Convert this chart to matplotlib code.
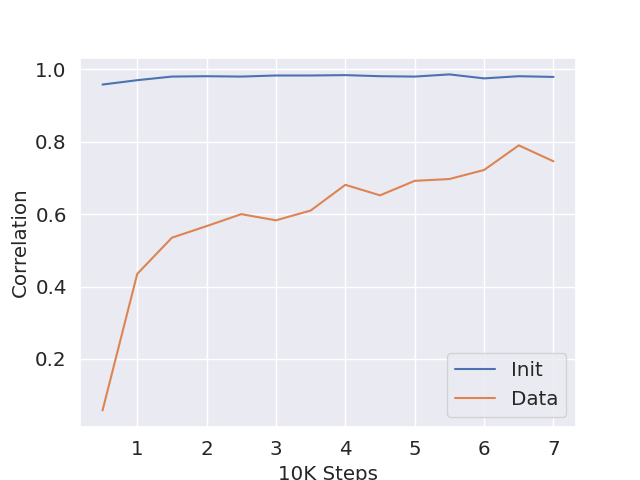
import matplotlib
matplotlib.use("Agg")
import matplotlib.pyplot as plt
import seaborn as sns

steps = [0.5, 1, 1.5, 2, 2.5, 3, 3.5, 4, 4.5, 5, 5.5, 6, 6.5, 7]
init_corr = [0.958, 0.970, 0.980, 0.981, 0.980, 0.983, 0.983, 0.984,
             0.981, 0.980, 0.986, 0.975, 0.981, 0.979]
data_corr = [0.058, 0.435, 0.535, 0.567, 0.600, 0.583, 0.610, 0.681,
             0.652, 0.692, 0.697, 0.722, 0.790, 0.746]

sns.set(font_scale=1.3)
plt.rcParams['axes.labelsize'] = 14.3

fig, ax = plt.subplots(figsize=(6.4, 4.8), dpi=100)
ax.plot(steps, init_corr, label='Init')
ax.plot(steps, data_corr, label='Data')
ax.set_xlabel('10K Steps')
ax.set_ylabel('Correlation')
ax.legend(loc='lower right')
fig.savefig('out.png')
